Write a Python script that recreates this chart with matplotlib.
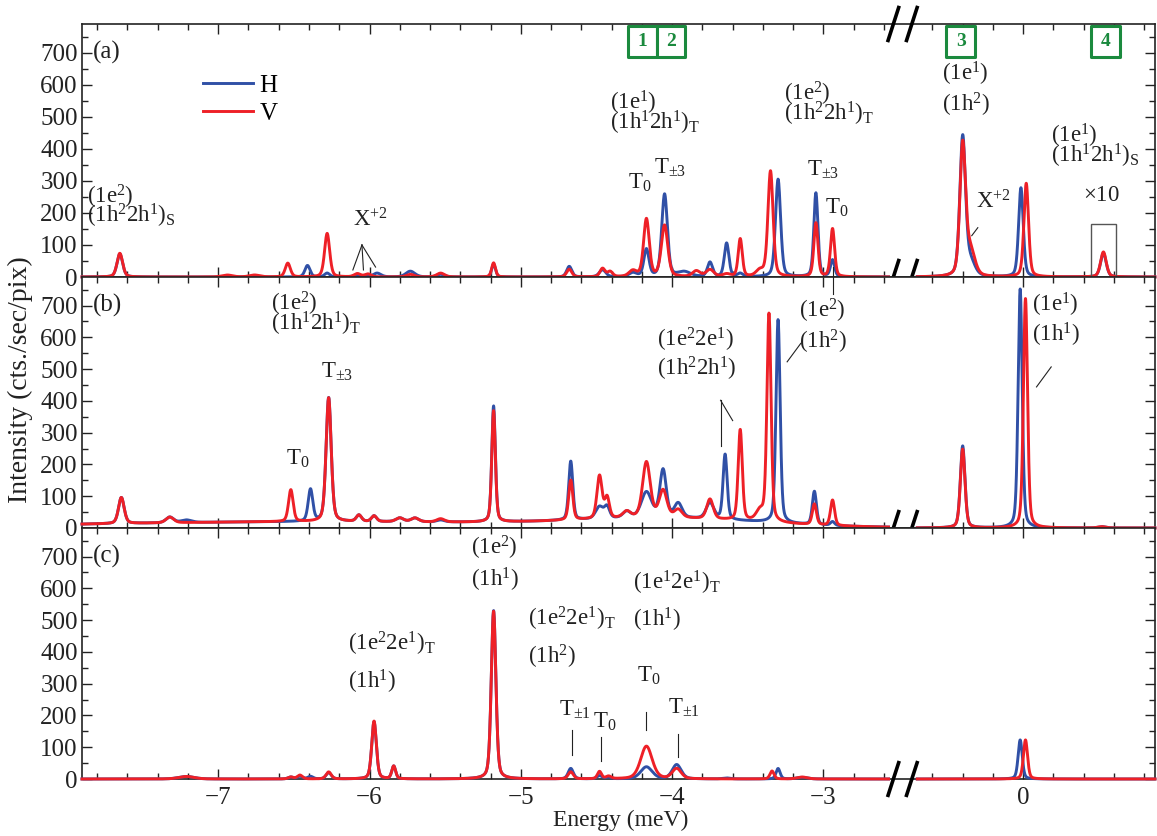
import numpy as np
import matplotlib
matplotlib.use('Agg')
import matplotlib.pyplot as plt
from matplotlib.patches import Rectangle

plt.rcParams['font.family'] = ['Liberation Serif', 'DejaVu Serif']
plt.rcParams['mathtext.fontset'] = 'stix'
plt.rcParams['mathtext.default'] = 'regular'

# broken energy axis: right part (around 0 meV) is drawn shifted left
SHIFT = -1.68
LEFT_SEG = (-7.90, -2.57)
RIGHT_SEG = (-0.70, 0.871)

# peak tables: position (meV), height (cts), half width (meV)
a_h_pos = [-7.65, -6.41, -6.28, -6.08, -5.95, -5.73, -5.53, -5.18, -4.68, -4.46, -4.26, -4.17, -4.05, -3.92,
           -3.75, -3.64, -3.55, -3.30, -3.05, -2.94, -0.40, -0.35, -0.015, 0.53]
a_h_amp = [72, 36, 12, 5, 12, 18, 8, 40, 33, 22, 12, 85, 258, 15, 45, 105, 10, 305, 262, 52, 432, 45, 278, 74]
a_h_wid = [0.022, 0.02, 0.02, 0.03, 0.03, 0.035, 0.03, 0.015, 0.02, 0.025, 0.03, 0.02, 0.022, 0.05,
           0.02, 0.018, 0.02, 0.02, 0.016, 0.016, 0.022, 0.035, 0.018, 0.022]

a_v_pos = [-7.65, -6.94, -6.76, -6.54, -6.28, -6.08, -6.01, -5.73, -5.53, -5.18, -4.68, -4.46, -4.41, -4.26,
           -4.17, -4.05, -3.84, -3.75, -3.64, -3.55, -3.42, -3.35, -3.05, -2.94, -0.40, -0.35, 0.02, 0.53]
a_v_amp = [74, 6, 6, 43, 136, 10, 9, 8, 12, 44, 24, 26, 16, 18, 180, 160, 18, 22, 8, 118, 18, 330, 168, 150,
           405, 80, 292, 78]
a_v_wid = [0.022, 0.04, 0.04, 0.02, 0.02, 0.025, 0.025, 0.03, 0.03, 0.015, 0.02, 0.02, 0.02, 0.03,
           0.022, 0.025, 0.03, 0.03, 0.03, 0.016, 0.03, 0.02, 0.016, 0.016, 0.022, 0.035, 0.018, 0.022]

b_h_pos = [-7.64, -7.32, -7.21, -6.39, -6.27, -6.07, -5.97, -5.80, -5.70, -5.53, -5.18, -4.67, -4.48, -4.43,
           -4.30, -4.17, -4.06, -3.96, -3.75, -3.65, -3.30, -3.06, -2.94, -0.40, -0.02, 0.52]
b_h_amp = [82, 18, 8, 100, 390, 20, 18, 12, 12, 6, 365, 185, 38, 35, 20, 80, 150, 45, 50, 205, 640, 105, 12,
           258, 752, 4]
b_h_wid = [0.022, 0.03, 0.04, 0.018, 0.02, 0.02, 0.02, 0.03, 0.03, 0.03, 0.014, 0.016, 0.03, 0.02,
           0.03, 0.04, 0.025, 0.03, 0.03, 0.016, 0.016, 0.016, 0.016, 0.018, 0.016, 0.03]

b_v_pos = [-7.64, -7.32, -6.52, -6.27, -6.07, -5.97, -5.80, -5.70, -5.53, -5.18, -4.67, -4.48, -4.43, -4.30,
           -4.17, -4.06, -3.96, -3.75, -3.55, -3.42, -3.36, -3.06, -2.94, -0.40, 0.015, 0.52]
b_v_amp = [82, 18, 100, 390, 20, 18, 12, 12, 10, 350, 125, 135, 65, 20, 175, 85, 25, 62, 285, 30, 655, 65, 80,
           248, 722, 4]
b_v_wid = [0.022, 0.03, 0.018, 0.02, 0.02, 0.02, 0.03, 0.03, 0.03, 0.014, 0.016, 0.02, 0.018, 0.03,
           0.03, 0.03, 0.03, 0.025, 0.016, 0.03, 0.016, 0.016, 0.016, 0.018, 0.016, 0.03]

# slowly varying background under panel (b)
b_bg_pos = [-6.3, -4.0]
b_bg_amp = [20, 24]
b_bg_sig = [1.6, 0.6]

c_h_pos = [-7.21, -6.52, -6.46, -6.39, -6.27, -5.97, -5.84, -5.18, -4.67, -4.48, -4.42, -4.17, -3.97, -3.64,
           -3.30, -3.14, -0.02]
c_h_amp = [8, 6, 8, 8, 20, 180, 40, 530, 33, 10, 5, 38, 45, 3, 33, 5, 123]
c_h_wid = [0.06, 0.02, 0.02, 0.02, 0.02, 0.018, 0.015, 0.018, 0.02, 0.02, 0.02, 0.045, 0.035, 0.03,
           0.016, 0.04, 0.016]

c_v_pos = [-7.21, -6.52, -6.46, -6.27, -5.97, -5.84, -5.18, -4.67, -4.48, -4.42, -4.17, -3.97, -3.34, -3.14,
           0.015]
c_v_amp = [8, 6, 12, 22, 182, 40, 528, 22, 23, 8, 103, 32, 25, 6, 123]
c_v_wid = [0.06, 0.02, 0.02, 0.02, 0.018, 0.015, 0.018, 0.02, 0.016, 0.02, 0.045, 0.035, 0.016, 0.04, 0.016]

x_major = [-7, -6, -5, -4, -3, 0]
x_major_labels = ['\u22127', '\u22126', '\u22125', '\u22124', '\u22123', '0']
y_major = [0, 100, 200, 300, 400, 500, 600, 700]

BLUE = '#3050a6'
RED = '#ee2027'
GREEN = '#1b8a3e'
INK = '#222222'
FS = 16.5      # annotations
FS_TICK = 18


def u(e):
    # energy -> plotted coordinate
    return e + SHIFT if e > -1.5 else e


def spectrum(e, pos, amp, wid):
    out = np.zeros_like(e)
    for p, a, w in zip(pos, amp, wid):
        d = ((e - p) / w) ** 2
        out += a * (0.35 / (1 + d) + 0.65 * np.exp(-np.log(2) * d))
    return out


def background(e, pos, amp, sig):
    out = np.zeros_like(e)
    for p, a, s in zip(pos, amp, sig):
        out += a * np.exp(-0.5 * ((e - p) / s) ** 2)
    return out


def draw(ax, pos, amp, wid, color, label, bg=None):
    first = None
    for (lo, hi), sh in [(LEFT_SEG, 0.0), (RIGHT_SEG, SHIFT)]:
        e = np.linspace(lo, hi, 4000)
        y = spectrum(e, pos, amp, wid)
        if bg is not None:
            y = y + background(e, *bg)
        ln, = ax.plot(e + sh, y, color=color, lw=2.1, clip_on=False, zorder=3, label=label)
        if first is None:
            first = ln
    return first


fig = plt.figure(figsize=(11.57, 8.36), dpi=100)
L, W = 82 / 1157, (1155 - 82) / 1157
ax_a = fig.add_axes([L, 1 - 277 / 836, W, 253 / 836])
ax_b = fig.add_axes([L, 1 - 528 / 836, W, 251 / 836])
ax_c = fig.add_axes([L, 1 - 779 / 836, W, 251 / 836])
axes = [ax_a, ax_b, ax_c]

hh = draw(ax_a, a_h_pos, a_h_amp, a_h_wid, BLUE, 'H')
hv = draw(ax_a, a_v_pos, a_v_amp, a_v_wid, RED, 'V')
bg = (b_bg_pos, b_bg_amp, b_bg_sig)
draw(ax_b, b_h_pos, b_h_amp, b_h_wid, BLUE, 'H', bg)
draw(ax_b, b_v_pos, b_v_amp, b_v_wid, RED, 'V', bg)
draw(ax_c, c_h_pos, c_h_amp, c_h_wid, BLUE, 'H')
draw(ax_c, c_v_pos, c_v_amp, c_v_wid, RED, 'V')

minor_x = [v for v in np.arange(-7.8, -2.5, 0.2)] + [v + SHIFT for v in np.arange(-0.6, 0.81, 0.2)]
for i, ax in enumerate(axes):
    ax.set_xlim(-7.90, 0.871 + SHIFT)
    ax.set_ylim(0, 790)
    ax.set_xticks([u(v) for v in x_major])
    ax.set_xticks(minor_x, minor=True)
    ax.set_yticks(y_major)
    ax.set_yticks(np.arange(50, 790, 100), minor=True)
    ax.tick_params(which='both', direction='in', top=True, right=True, labelsize=FS_TICK, colors=INK)
    ax.tick_params(which='major', length=7, width=1.0)
    ax.tick_params(which='minor', length=4, width=1.0)
    ax.tick_params(axis='x', which='major', pad=6)
    ax.tick_params(axis='y', which='major', pad=3)
    for sp in ax.spines.values():
        sp.set_linewidth(1.2)
        sp.set_color(INK)
    ax.text(-7.83, 700, ['(a)', '(b)', '(c)'][i], fontsize=FS_TICK, va='center', ha='left', color=INK)
    ax.set_xticklabels([])
ax_c.set_xticklabels(x_major_labels)

# axis break marks
for ax, ys in [(ax_a, [0, 1]), (ax_b, [0]), (ax_c, [0])]:
    for yb in ys:
        for xc in [-2.538, -2.416]:
            ax.plot([xc - 0.035, xc + 0.035], [yb - 0.065, yb + 0.065], color='k', lw=2.6,
                    transform=ax.get_xaxis_transform(), clip_on=False, zorder=6)

ax_a.legend(handles=[hh, hv], loc='upper left', bbox_to_anchor=(0.113, 0.80), frameon=False,
            fontsize=FS_TICK, handlelength=2.0, handletextpad=0.25, labelspacing=0.2, borderpad=0,
            borderaxespad=0)

# tightly stacked two-line labels: (text, energy, baseline of the lower line)
stacked_a = [
    ('$(1e^{2})$\n$(1h^{2}2h^{1})_{S}$', -7.87, 169),
    ('$(1e^{1})$\n$(1h^{1}2h^{1})_{T}$', -4.41, 462),
    ('$(1e^{2})$\n$(1h^{2}2h^{1})_{T}$', -3.26, 490),
    ('$(1e^{1})$\n$(1h^{1}2h^{1})_{S}$', 0.185, 358),
]
stacked_b = [
    ('$(1e^{2})$\n$(1h^{1}2h^{1})_{T}$', -6.65, 623),
]
texts_a = [
    (r'$X^{+2}$', -6.11, 158),
    (r'$T_{0}$', -4.29, 277), (r'$T_{\pm3}$', -4.12, 321),
    (r'$T_{\pm3}$', -3.11, 315), (r'$T_{0}$', -2.99, 198),
    (r'$(1e^{1})$', -0.535, 613), (r'$(1h^{2})$', -0.535, 516),
    (r'$X^{+2}$', -0.31, 214),
]
texts_b = [
    (r'$T_{0}$', -6.55, 200), (r'$T_{\pm3}$', -6.32, 474),
    (r'$(1e^{2}2e^{1})$', -4.10, 571), (r'$(1h^{2}2h^{1})$', -4.10, 481),
    (r'$(1e^{2})$', -3.16, 661), (r'$(1h^{2})$', -3.16, 565),
    (r'$(1e^{1})$', 0.057, 682), (r'$(1h^{1})$', 0.057, 587),
]
texts_c = [
    (r'$(1e^{2}2e^{1})_{T}$', -6.145, 405), (r'$(1h^{1})$', -6.145, 284),
    (r'$(1e^{2})$', -5.33, 705), (r'$(1h^{1})$', -5.33, 605),
    (r'$(1e^{2}2e^{1})_{T}$', -4.95, 484), (r'$(1h^{2})$', -4.95, 363),
    (r'$T_{\pm1}$', -4.75, 200),
    (r'$(1e^{1}2e^{1})_{T}$', -4.26, 595), (r'$(1h^{1})$', -4.26, 479),
    (r'$T_{0}$', -4.52, 163), (r'$T_{0}$', -4.23, 305), (r'$T_{\pm1}$', -4.03, 205),
]
for ax, tl in [(ax_a, texts_a), (ax_b, texts_b), (ax_c, texts_c)]:
    for s, e, y in tl:
        ax.text(u(e), y, s, fontsize=FS, ha='left', va='baseline', color=INK, zorder=5)
for ax, tl in [(ax_a, stacked_a), (ax_b, stacked_b)]:
    for s, e, y in tl:
        ax.text(u(e), y, s, fontsize=FS, ha='left', va='baseline', color=INK, zorder=5,
                linespacing=0.58, multialignment='left')
ax_a.text(u(0.52), 236, r'$\times10$', fontsize=FS, ha='center', va='baseline', color=INK)
ax_a.add_patch(Rectangle((u(0.45), 0), 0.16, 165, fill=False, ec='#555555', lw=1.0, zorder=4))

pointers_a = [[(-6.05, 100), (-6.11, 22)], [(-6.05, 100), (-6.04, 22)], [(-6.05, 100), (-5.96, 31)],
              [(-0.34, 129), (-0.30, 154)]]
pointers_b = [[(-3.68, 402), (-3.68, 259)], [(-3.68, 402), (-3.60, 338)], [(-3.15, 581), (-3.24, 523)],
              [(0.185, 507), (0.088, 444)]]
pointers_c = [[(-4.66, 153), (-4.66, 74)], [(-4.47, 132), (-4.47, 58)], [(-4.17, 211), (-4.17, 153)],
              [(-3.96, 142), (-3.96, 68)]]
for ax, pl in [(ax_a, pointers_a), (ax_b, pointers_b), (ax_c, pointers_c)]:
    for (e0, y0), (e1, y1) in pl:
        ax.plot([u(e0), u(e1)], [y0, y1], color=INK, lw=0.8, zorder=5)
ax_b.plot([-2.94, -2.94], [737, 823], color=INK, lw=0.8, clip_on=False, zorder=5)

# numbered green boxes
boxes = [('1', -4.294, -4.102), ('2', -4.102, -3.917), ('3', u(-0.508), u(-0.317)), ('4', u(0.449), u(0.640))]
for lab, x0, x1 in boxes:
    ax_a.add_patch(Rectangle((x0, 686), x1 - x0, 97, fill=True, fc='white', ec=GREEN, lw=2.2,
                             joinstyle='round', zorder=6, clip_on=False))
    ax_a.text((x0 + x1) / 2, 734, lab, color=GREEN, fontsize=14, fontweight='bold', ha='center',
              va='center', zorder=7)

fig.text(621 / 1157, 1 - 820 / 836, 'Energy (meV)', fontsize=17, ha='center', va='center', color=INK)
fig.text(20 / 1157, 1 - 380 / 836, 'Intensity (cts./sec/pix)', fontsize=20, ha='center', va='center',
         rotation=90, color=INK)

fig.savefig('out.png', dpi=100)
